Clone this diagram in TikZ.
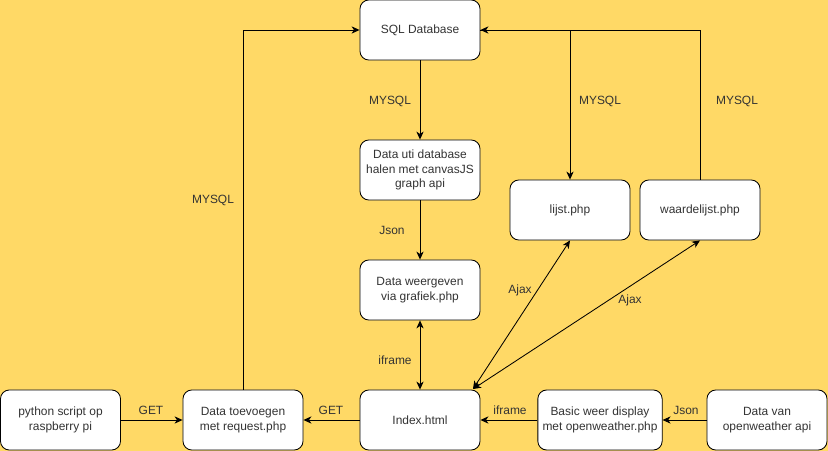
\documentclass[tikz,border=0pt]{standalone}
\usepackage{fontspec}
\setmainfont{Liberation Sans}
\usepackage{xcolor}
\usepackage{tikz}
\usetikzlibrary{arrows.meta,positioning}
\definecolor{bgyellow}{HTML}{FFD966}
\definecolor{inkgrey}{HTML}{333333}

\begin{document}
\begin{tikzpicture}[x=0.025cm, y=-0.025cm, font=\fontsize{8.5}{10.2}\selectfont,
  box/.style={draw, fill=white, rounded corners=0.22cm, minimum width=3cm,
    minimum height=1.5cm, align=center, text=inkgrey, line width=0.6pt},
  lbl/.style={text=inkgrey},
  link/.style={-{Stealth[length=2mm, width=1.8mm, inset=0.6mm]}, line width=0.6pt},
  twoway/.style={{Stealth[length=2mm, width=1.8mm, inset=0.6mm]}-{Stealth[length=2mm, width=1.8mm, inset=0.6mm]}, line width=0.6pt}]

% page and background
\useasboundingbox (0,0) rectangle (828,451);
\fill[bgyellow] (0,0) rectangle (828,451);

% ---------- middle column ----------
\node[box] (sqldb)   at (420,30)  {SQL Database};
\node[box] (ophalen) at (420,170) {Data uti database\\halen met canvasJS\\graph api};
\node[box] (grafiek) at (420,290) {Data weergeven\\via grafiek.php};
\node[box] (index)   at (420,420) {Index.html};

% ---------- right column ----------
\node[box] (lijst)  at (570,210) {lijst.php};
\node[box] (waarde) at (700,210) {waardelijst.php};

% ---------- bottom row ----------
\node[box] (python)  at (60.5,420) {python script op\\raspberry pi};
\node[box] (request) at (243,420)  {Data toevoegen\\met request.php};
\node[box] (weer)    at (600,420)  {Basic weer display\\met openweather.php};
\node[box] (owapi)   at (767,420)  {Data van\\openweather api};

\coordinate (ajaxpt) at (473,389);

% ---------- connectors ----------
\draw[link] (request.north) |- (sqldb.west);
\node[lbl] (mysqlA) at (213,200) {MYSQL};

\draw[link] (sqldb) -- (ophalen);
\node[lbl] (mysqlB) at (390,101) {MYSQL};

\draw[link] (ophalen) -- (grafiek);
\node[lbl] (jsonA) at (392,230) {Json};

\draw[twoway] (grafiek) -- (index);
\node[lbl] (iframeA) at (395,360) {iframe};

\draw[link] (sqldb.east) -| (lijst.north);
\node[lbl] (mysqlC) at (600,101) {MYSQL};

\draw[link] (waarde.north) |- (sqldb.east);
\node[lbl] (mysqlD) at (737,101) {MYSQL};

\draw[twoway] (ajaxpt) -- (lijst.south);
\node[lbl] (ajaxA) at (520,290) {Ajax};

\draw[twoway] (ajaxpt) -- (waarde.south);
\node[lbl] (ajaxB) at (630,300) {Ajax};

\draw[link] (python) -- (request);
\node[lbl] (getA) at (151,410) {GET};

\draw[link] (index) -- (request);
\node[lbl] (getB) at (331,410) {GET};

\draw[link] (weer) -- (index);
\node[lbl] (iframeB) at (510,410) {iframe};

\draw[link] (owapi) -- (weer);
\node[lbl] (jsonB) at (686,410) {Json};

\end{tikzpicture}
\end{document}
